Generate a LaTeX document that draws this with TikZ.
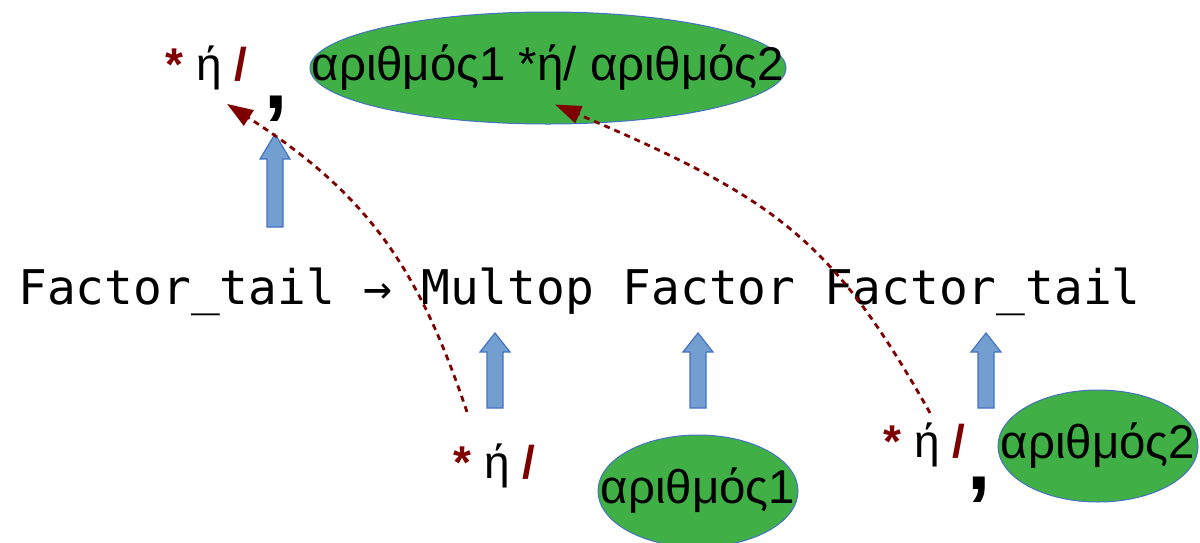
\documentclass[tikz,border=0pt]{standalone}
\usepackage{fontspec}
\setmainfont{Liberation Sans}
\newfontfamily\rulefont{DejaVu Sans Mono}
\usetikzlibrary{arrows.meta,shapes.geometric}

\definecolor{opred}{HTML}{7F0000}
\definecolor{numgreen}{HTML}{3FAF46}
\definecolor{edgeblue}{HTML}{4472C4}
\definecolor{liftblue}{HTML}{729FCF}

\newcommand{\multop}{{\color{opred}\bfseries *} ή {\color{opred}\bfseries /}}

\tikzset{
  txt/.style={inner sep=0pt, font=\fontsize{23}{27}\selectfont},
  numtxt/.style={inner sep=0pt, font=\fontsize{23.7}{28}\selectfont},
  comma/.style={inner sep=0pt, font=\fontsize{42}{46}\selectfont\bfseries},
  numell/.style={ellipse, draw=edgeblue, line width=0.5pt, fill=numgreen,
    inner sep=0pt, minimum width=100pt, minimum height=56pt},
  lift/.style={draw=edgeblue, line width=0.6pt, fill=liftblue},
  flow/.style={opred, line width=1.4pt, dash pattern=on 3pt off 2.5pt,
    -{Triangle[length=13pt,width=9pt]}}
}

\begin{document}
\begin{tikzpicture}[x=0.5pt,y=-0.5pt]
  \useasboundingbox (0,0) rectangle (1200,542);

  % the production
  \node[inner sep=0pt, anchor=base west, font=\fontsize{23.9}{28}\rulefont] (rule) at (18,304)
    {Factor\_tail → Multop Factor Factor\_tail};

  % result
  \node[txt, anchor=base west] (optop) at (165,80) {\multop};
  \node[comma] (commatop) at (276,109) {,};
  \node[numell, minimum width=238pt, label={[numtxt]center:αριθμός1 *ή/ αριθμός2}] (ntop) at (548,68) {};

  % children
  \node[txt, anchor=base west] (opbot) at (453,478) {\multop};
  \node[numell, label={[numtxt]center:αριθμός1}] (nleft) at (698,491) {};
  \node[txt, anchor=base west] (opright) at (883,457) {\multop};
  \node[comma] (commaright) at (979,490) {,};
  \node[numell, label={[numtxt]center:αριθμός2}] (nright) at (1098,446) {};

  % block arrows
  \foreach \x/\yt/\yh/\yb in {275/134/159/227, 495/333/352/408, 698/333/352/408, 986/333/352/408}
    \draw[lift] (\x-8,\yb) -- (\x-8,\yh) -- (\x-15,\yh) -- (\x,\yt)
      -- (\x+15,\yh) -- (\x+8,\yh) -- (\x+8,\yb) -- cycle;

  % where the values go
  \draw[flow] ([xshift=7pt,yshift=15.5pt]opbot.north west)
    .. controls +(-48,-142) and +(143,92) .. ([xshift=31pt,yshift=-7pt]optop.south west);
  \draw[flow] ([xshift=23.5pt,yshift=4.5pt]opright.north west)
    .. controls +(-98,-174) and +(221,94) .. ([xshift=3.5pt,yshift=10pt]ntop.south);
\end{tikzpicture}
\end{document}
